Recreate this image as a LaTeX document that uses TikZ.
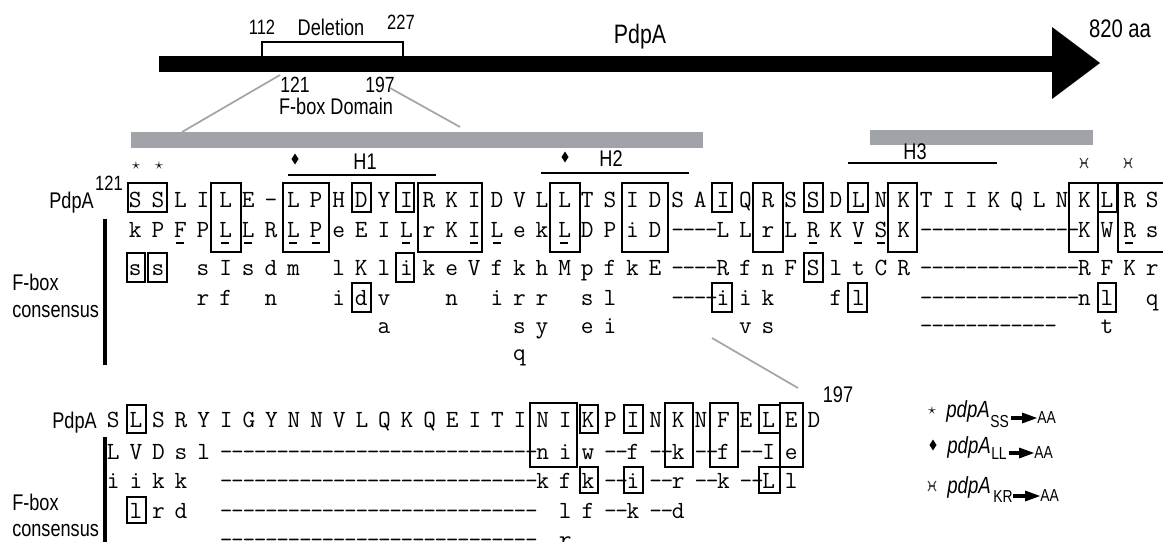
\documentclass[tikz,border=0pt]{standalone}
\usepackage{fontspec}
\newfontfamily\lsans[FakeStretch=0.8]{Liberation Sans}
\usetikzlibrary{shapes.geometric}
\definecolor{gbar}{RGB}{160,163,168}
\definecolor{gline}{RGB}{165,165,165}
\newcommand\slt[1]{\makebox[8.475pt]{#1}}
\newcommand\colitem[1]{\if-#1\relax\slt{-}\slt{-}\else\if=#1\relax\slt{-}\slt{}\else\if x#1\relax\slt{}\slt{}\else\slt{#1}\slt{}\fi\fi\fi}
\newcommand\seqrow[4]{\foreach \ch [count=\k] in {#4} {\node[seq] (#1-\k) at ({#2-5.65+(\k-1)*22.6},#3) {\colitem{\ch}};}}
\newcommand\bx[4]{\draw[boxln] (#1,#3) rectangle (#2,#4);}
\newcommand\dmd[2]{\fill (#1,#2-5.5) -- (#1+3.5,#2) -- (#1,#2+5.5) -- (#1-3.5,#2) -- cycle;}
\newcommand\lgarrow[3]{\fill (#1,#3-1.9) rectangle (#2-6,#3+1.9); \fill (#2-15,#3-5.5) -- (#2,#3) -- (#2-15,#3+5.5) -- cycle;}
\tikzset{
  seq/.style={font=\ttfamily\fontsize{18.5}{20}\selectfont, inner sep=0pt, anchor=base west},
  boxln/.style={line width=1.9pt},
  lbl/.style={font=\lsans\fontsize{17}{20}\selectfont, inner sep=0pt},
  grayln/.style={draw=gline, line width=1.3pt},
  hline/.style={line width=2.2pt},
  krs/.pic={\draw[line width=0.8pt, black!75] (-4,-5) .. controls (-1,-2) and (-1,2) .. (-4,5);
            \draw[line width=0.8pt, black!75] (4,-5) .. controls (1,-2) and (1,2) .. (4,5);
            \draw[line width=0.8pt, black!75] (-3,0) -- (3,0);}
}
\begin{document}
\begin{tikzpicture}[x=0.75pt,y=-0.75pt]
\useasboundingbox (0,0) rectangle (1163,542);
% ---------------- top protein arrow
\draw[line width=1.8pt, fill=white] (262,42) rectangle (403,57);
\fill (159,56) rectangle (1054,72);
\fill (1052,27) -- (1100,63) -- (1052,99) -- cycle;
\node[lbl, font=\lsans\fontsize{15.5}{18}\selectfont] (n112) at (262,27) {112};
\node[lbl] (ndel) at (331,27) {Deletion};
\node[lbl, font=\lsans\fontsize{15.5}{18}\selectfont] (n227) at (401,22) {227};
\node[lbl, font=\lsans\fontsize{20}{22}\selectfont] (ntop) at (640,37) {PdpA};
\node[lbl, font=\lsans\fontsize{19}{22}\selectfont] (n820) at (1120,29) {820 aa};
\node[lbl, font=\lsans\fontsize{16.5}{18}\selectfont] (n121) at (295,85) {121};
\node[lbl, font=\lsans\fontsize{16.5}{18}\selectfont] (n197) at (380,85) {197};
\node[lbl] (nfbd) at (336,106) {F-box Domain};
% gray domain bars and zoom lines
\fill[gbar] (131,132) rectangle (703,148);
\fill[gbar] (870,130) rectangle (1093,145);
\coordinate (z1a) at (280,75); \coordinate (z1b) at (182,132);
\coordinate (z2a) at (390,88); \coordinate (z2b) at (460,127);
\draw[grayln] (z1a) -- (z1b);
\draw[grayln] (z2a) -- (z2b);
% helices
\draw[hline] (288,175) -- (436,175);
\draw[hline] (541,173) -- (689,173);
\draw[hline] (848,163) -- (997,163);
\node[lbl] (h1) at (365,162) {H1};
\node[lbl] (h2) at (611,159) {H2};
\node[lbl] (h3) at (915,152) {H3};
\dmd{295}{159}
\dmd{565}{157}
\node[inner sep=0pt, font=\fontsize{12}{13}\selectfont] (st1) at (136,166) {$\star$};
\node[inner sep=0pt, font=\fontsize{12}{13}\selectfont] (st2) at (159,166) {$\star$};
\pic at (1084,163) {krs};
\pic at (1128,163) {krs};
% ---------------- top alignment
\node[lbl, anchor=base east] (pdpa1) at (94,208) {PdpA};
\node[lbl, font=\lsans\fontsize{15.5}{18}\selectfont] (s121) at (109,183) {121};
\node[lbl, anchor=base west] (fb1) at (12,290) {F-box};
\node[lbl, anchor=base west] (cs1) at (12,317) {consensus};
\draw[line width=3.6pt] (105,219) -- (105,365);
\seqrow{ta}{135}{207}{S,S,L,I,L,E,=,L,P,H,D,Y,I,R,K,I,D,V,L,L,T,S,I,D,S,A,I,Q,R,S,S,D,L,N,K,T,I,I,K,Q,L,N,K,L,R,S}
\seqrow{tb}{135}{237.5}{k,P,F,P,L,L,R,L,P,e,E,I,L,r,K,I,L,e,k,L,D,P,i,D,-,-,L,L,r,L,R,K,V,S,K,-,-,-,-,-,-,-,K,W,R,s}
\seqrow{tc}{135}{275.5}{s,s,x,s,I,s,d,m,x,l,K,l,i,k,e,V,f,k,h,M,p,f,k,E,-,-,R,f,n,F,S,l,t,C,R,-,-,-,-,-,-,-,R,F,K,r}
\seqrow{td}{135}{305.5}{x,x,x,r,f,x,n,x,x,i,d,v,x,x,n,x,i,r,r,x,s,l,x,x,-,-,i,i,k,x,x,f,l,x,x,-,-,-,-,-,-,-,n,l,x,q}
\seqrow{te}{135}{333}{x,x,x,x,x,x,x,x,x,x,x,a,x,x,x,x,x,s,y,x,e,i,x,x,x,x,x,v,s,x,x,x,x,x,x,-,-,-,-,-,-,x,x,t}
\seqrow{tf}{135}{360}{x,x,x,x,x,x,x,x,x,x,x,x,x,x,x,x,x,q}
% underlines
\foreach \c in {3,5,6,8,9,13,16,17,20,31,33,34,45} {\draw[line width=1.3pt] ({135+(\c-1)*22.6-4},243) -- ({135+(\c-1)*22.6+4},243);}
% boxes rows 1-2
\bx{211}{241}{183}{252}\bx{283}{329}{183}{252}\bx{418}{482}{183}{252}\bx{550}{580}{183}{252}
\bx{622}{668}{183}{252}\bx{753}{783}{183}{252}\bx{888}{917}{183}{252}\bx{1069}{1098}{183}{252}
\bx{1118}{1172}{183}{252}
% boxes row 1
\bx{128}{167}{183}{212}\bx{352}{371}{183}{212}\bx{396}{414}{183}{212}\bx{712}{732}{183}{212}
\bx{804}{823}{183}{212}\bx{848}{868}{183}{212}\bx{1098}{1117}{183}{212}
% boxes row 3
\bx{127}{145}{253}{282}\bx{148}{167}{253}{282}\bx{396}{414}{253}{282}\bx{804}{823}{253}{282}
% boxes row 4
\bx{352}{371}{283}{312}\bx{712}{732}{283}{312}\bx{848}{867}{283}{312}\bx{1098}{1116}{283}{312}
% lower zoom line
\coordinate (z3a) at (712,338); \coordinate (z3b) at (798,388);
\draw[grayln] (z3a) -- (z3b);
\node[lbl] (l197) at (838,395) {197};
% ---------------- lower alignment
\node[lbl, anchor=base east] (pdpa2) at (97,428) {PdpA};
\node[lbl, anchor=base west] (fb2) at (12,510) {F-box};
\node[lbl, anchor=base west] (cs2) at (12,536) {consensus};
\draw[line width=3.6pt] (105,437) -- (105,545);
\seqrow{la}{113}{427.5}{S,L,S,R,Y,I,G,Y,N,N,V,L,Q,K,Q,E,I,T,I,N,I,K,P,I,N,K,N,F,E,L,E,D}
\seqrow{lb}{113}{459.5}{L,V,D,s,l,-,-,-,-,-,-,-,-,-,-,-,-,-,-,n,i,w,-,f,-,k,-,f,-,I,e}
\seqrow{lc}{113}{488.5}{i,i,k,k,x,-,-,-,-,-,-,-,-,-,-,-,-,-,-,k,f,k,-,i,-,r,-,k,-,L,l}
\seqrow{ld}{113}{518.5}{x,l,r,d,x,-,-,-,-,-,-,-,-,-,-,-,-,-,-,x,l,f,-,k,-,d}
\seqrow{le}{113}{547}{x,x,x,x,x,-,-,-,-,-,-,-,-,-,-,-,-,-,-,x,r}
\bx{127}{146}{405}{433}\bx{580}{598}{405}{433}\bx{624}{643}{405}{433}\bx{759}{780}{405}{433}
\bx{530}{577}{403}{467}\bx{665}{693}{403}{467}\bx{710}{738}{403}{467}\bx{780}{803}{403}{467}
\bx{580}{598}{467}{493}\bx{624}{643}{467}{493}\bx{759}{780}{467}{493}
\bx{127}{146}{497}{523}
% ---------------- legend
\node[inner sep=0pt, font=\fontsize{12}{13}\selectfont] (lgs) at (932,411) {$\star$};
\node[lbl, anchor=base west, font=\lsans\itshape\fontsize{17.5}{19}\selectfont] (lg1) at (946,417) {pdpA};
\node[lbl, anchor=base west, font=\lsans\fontsize{13}{14}\selectfont] (lg1s) at (990,427) {SS};
\lgarrow{1011}{1037}{418}
\node[lbl, anchor=base west, font=\lsans\fontsize{13}{14}\selectfont] (lg1a) at (1037,423) {AA};
\dmd{933}{445}
\node[lbl, anchor=base west, font=\lsans\itshape\fontsize{17.5}{19}\selectfont] (lg2) at (947,453) {pdpA};
\node[lbl, anchor=base west, font=\lsans\fontsize{13}{14}\selectfont] (lg2s) at (991,459) {LL};
\lgarrow{1009}{1034}{453}
\node[lbl, anchor=base west, font=\lsans\fontsize{13}{14}\selectfont] (lg2a) at (1034,458) {AA};
\pic at (932,486) {krs};
\node[lbl, anchor=base west, font=\lsans\itshape\fontsize{17.5}{19}\selectfont] (lg3) at (947,493) {pdpA};
\node[lbl, anchor=base west, font=\lsans\fontsize{13}{14}\selectfont] (lg3s) at (993,502) {KR};
\lgarrow{1013}{1040}{496}
\node[lbl, anchor=base west, font=\lsans\fontsize{13}{14}\selectfont] (lg3a) at (1040,501) {AA};
\end{tikzpicture}
\end{document}
